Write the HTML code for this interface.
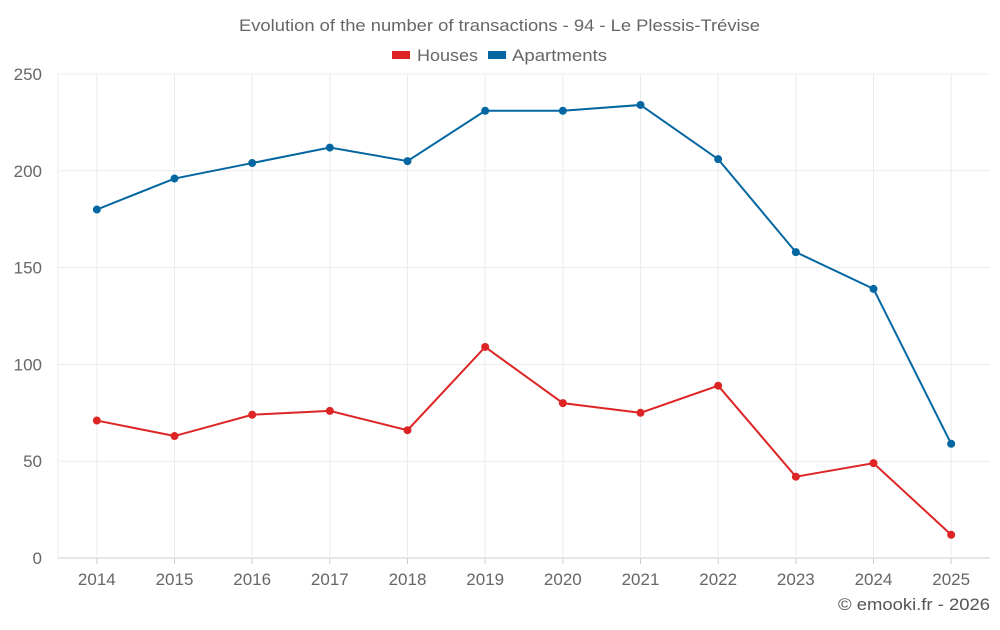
<!DOCTYPE html>
<html><head><meta charset="utf-8">
<style>
body{margin:0;background:#fff;font-family:"Liberation Sans",sans-serif;}
svg text{font-family:"Liberation Sans",sans-serif;}
</style></head>
<body>
<svg id="chart" width="1000" height="625" xmlns="http://www.w3.org/2000/svg">
<text x="239" y="31" textLength="521" lengthAdjust="spacingAndGlyphs" font-size="17" fill="#666">Evolution of the number of transactions - 94 - Le Plessis-Trévise</text>
<g>
<g><rect x="392" y="51" width="18" height="8" fill="#dd2525"/><text x="417" y="61" textLength="61" lengthAdjust="spacingAndGlyphs" font-size="17" fill="#666">Houses</text></g>
<g><rect x="488" y="51" width="18" height="8" fill="#0467a1"/><text x="512" y="61" textLength="95" lengthAdjust="spacingAndGlyphs" font-size="17" fill="#666">Apartments</text></g>
</g>
<g id="grid"></g>
<g id="axes"></g>
<g id="series"></g>
<text x="838" y="610" textLength="152" lengthAdjust="spacingAndGlyphs" font-size="17" fill="#555">© emooki.fr - 2026</text>
</svg>
<script>
const years=["2014","2015","2016","2017","2018","2019","2020","2021","2022","2023","2024","2025"];
const houses=[71,63,74,76,66,109,80,75,89,42,49,12];
const apartments=[180,196,204,212,205,231,231,234,206,158,139,59];
const yTicks=[0,50,100,150,200,250];
const NS="http://www.w3.org/2000/svg";
const L=58,R=990,T=74,B=558,yMax=250;
const step=(R-L)/years.length;
const x=i=>L+step*(i+0.5);
const y=v=>B-(v/yMax)*(B-T);
function mk(tag,attrs,parent){const e=document.createElementNS(NS,tag);for(const k in attrs)e.setAttribute(k,attrs[k]);parent.appendChild(e);return e;}
const grid=document.getElementById('grid'),axes=document.getElementById('axes'),ser=document.getElementById('series');
yTicks.forEach(t=>{
  const ln=mk('line',{x1:L,x2:R,y1:y(t),y2:y(t),stroke:t===0?'#ccc':'#ececec','stroke-width':1},grid);
  
  
  const tx=mk('text',{x:L-16,y:y(t)+6,'text-anchor':'end','font-size':17,fill:'#666'},axes);
  tx.textContent=t;
  
  
});
mk('line',{x1:L,x2:L,y1:T,y2:B,stroke:'#ececec'},grid);
years.forEach((yr,i)=>{
  const ln=mk('line',{x1:x(i),x2:x(i),y1:T,y2:B,stroke:'#ececec'},grid);
  
  
  const tk=mk('line',{x1:x(i),x2:x(i),y1:B,y2:B+6,stroke:'#ccc'},axes);
  
  
  const tx=mk('text',{x:x(i),y:B+27,'text-anchor':'middle','font-size':17,fill:'#666'},axes);
  tx.textContent=yr;
  
  
});
function drawSeries(vals,color,name){
  const p=mk('polyline',{points:vals.map((v,i)=>x(i)+','+y(v)).join(' '),fill:'none',stroke:color,'stroke-width':2},ser);
  
  
  vals.forEach((v,i)=>{
    const c=mk('circle',{cx:x(i),cy:y(v),r:4,fill:color},ser);
    
    
  });
}
drawSeries(apartments,'#0467a1','apartments');
drawSeries(houses,'#dd2525','houses');
</script>
</body></html>
